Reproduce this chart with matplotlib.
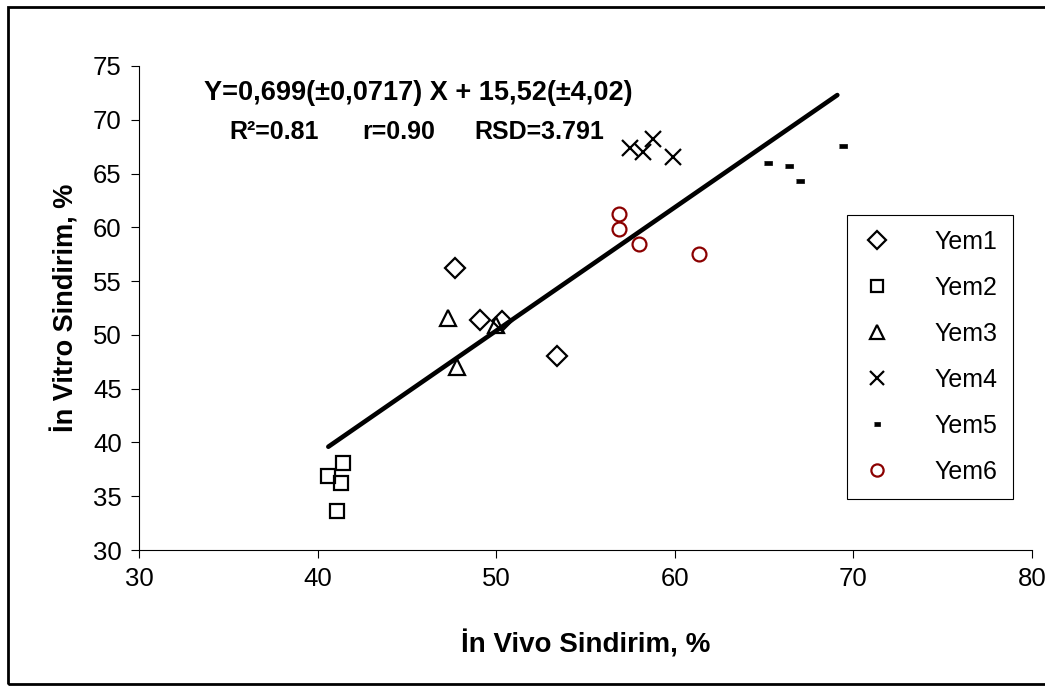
import matplotlib
matplotlib.use("Agg")
import matplotlib.pyplot as plt
from matplotlib.patches import Rectangle

plt.rcParams['font.family'] = ['Liberation Sans', 'DejaVu Sans']

# veriler
yem1_x = [47.7, 49.1, 50.3, 53.4]
yem1_y = [56.2, 51.4, 51.3, 48.0]
yem2_x = [41.4, 40.6, 41.3, 41.1]
yem2_y = [38.1, 36.9, 36.2, 33.6]
yem3_x = [47.3, 47.8, 50.0]
yem3_y = [51.6, 47.0, 50.9]
yem4_x = [57.5, 58.2, 58.8, 59.9]
yem4_y = [67.4, 67.0, 68.2, 66.5]
yem5_x = [65.2, 66.4, 67.0, 69.4]
yem5_y = [66.0, 65.7, 64.3, 67.6]
yem6_x = [56.9, 56.9, 58.0, 61.35]
yem6_y = [61.2, 59.8, 58.45, 57.5]
line_x = [40.6, 69.1]
line_y = [39.6, 72.3]

xticks = [30, 40, 50, 60, 70, 80]
yticks = [30, 35, 40, 45, 50, 55, 60, 65, 70, 75]

fig = plt.figure(figsize=(10.45, 6.86), dpi=100)
ax = fig.add_axes([139/1045, 1-550/686, (1032-139)/1045, (550-66)/686])

# trend cizgisi isaretlerin ustunde
ax.plot(line_x, line_y, color='black', lw=3.3, solid_capstyle='round', zorder=5)

mk = dict(linestyle='none', mfc='none', mew=1.6, zorder=4)
ax.plot(yem1_x, yem1_y, marker='D', ms=10.5, mec='black', label='Yem1', **mk)
ax.plot(yem2_x, yem2_y, marker='s', ms=10, mec='black', label='Yem2', **mk)
ax.plot(yem3_x, yem3_y, marker='^', ms=11, mec='black', label='Yem3', **mk)
ax.plot(yem4_x, yem4_y, marker='x', ms=11, mec='black', label='Yem4', **mk)
dash = [(-1, -0.45), (1, -0.45), (1, 0.45), (-1, 0.45)]
ax.plot(yem5_x, yem5_y, marker=dash, ms=5.5, mec='black', mfc='black',
        mew=0.5, linestyle='none', label='Yem5', zorder=4)
ax.plot(yem6_x, yem6_y, marker='o', ms=10, mec='#8B0000', label='Yem6', **mk)

ax.set_xlim(30, 80)
ax.set_ylim(30, 75)
ax.set_xticks(xticks)
ax.set_yticks(yticks)
ax.tick_params(direction='out', length=5.5, width=0.8, labelsize=18.5, pad=7)
ax.spines['top'].set_visible(False)
ax.spines['right'].set_visible(False)
ax.spines['left'].set_linewidth(0.8)
ax.spines['bottom'].set_linewidth(0.8)

ax.set_xlabel('İn Vivo Sindirim, %', fontsize=20, fontweight='bold', labelpad=28)
ax.set_ylabel('İn Vitro Sindirim, %', fontsize=19.5, fontweight='bold', labelpad=10)

fig.text(418/1045, 1-93/686, 'Y=0,699(±0,0717) X + 15,52(±4,02)', fontsize=19.5,
         fontweight='bold', ha='center', va='center')
fig.text(229/1045, 1-132/686, 'R²=0.81', fontsize=18, fontweight='bold', ha='left', va='center')
fig.text(362/1045, 1-132/686, 'r=0.90', fontsize=18, fontweight='bold', ha='left', va='center')
fig.text(474/1045, 1-132/686, 'RSD=3.791', fontsize=18, fontweight='bold', ha='left', va='center')

leg = ax.legend(loc='upper left', bbox_to_anchor=(847/1045, 1-215/686),
                bbox_transform=fig.transFigure, fontsize=18, frameon=True,
                fancybox=False, edgecolor='black', framealpha=1, markerscale=0.88,
                labelspacing=0.88, handlelength=1.2, handletextpad=1.7,
                borderpad=0.6, borderaxespad=0)
leg.get_frame().set_linewidth(0.8)

frame = Rectangle((8/1045, 1-684/686), 1.2, (684-7)/686, transform=fig.transFigure,
                  fill=False, lw=2, edgecolor='black', clip_on=False)
fig.add_artist(frame)

fig.savefig('out.png', dpi=100)
